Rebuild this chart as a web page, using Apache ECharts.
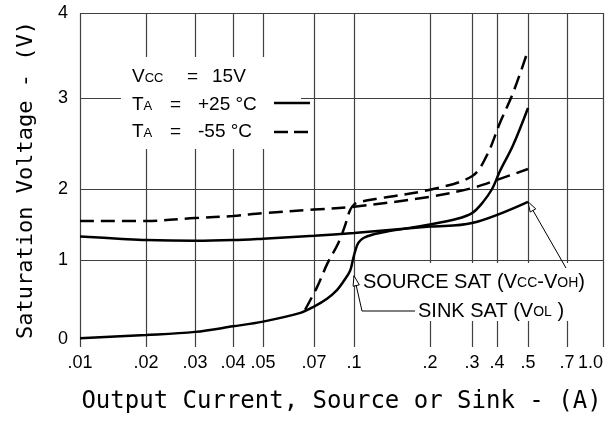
<!DOCTYPE html>
<html><head><meta charset="utf-8">
<script src="https://cdn.jsdelivr.net/npm/echarts@6/dist/echarts.min.js"></script>
<style>html,body{margin:0;padding:0;background:#fff}#c{width:610px;height:425px}</style>
</head><body><div id="c"></div>
<script>
// ---- tick values / labels (printed graph paper) ----
const xTickValues = [0.01,0.02,0.03,0.04,0.05,0.07,0.1,0.2,0.3,0.4,0.5,0.7,1.0];
const xTickLabels = ['.01','.02','.03','.04','.05','.07','.1','.2','.3','.4','.5','.7','1.0'];
const yTickValues = [0,1,2,3,4];
const yTickLabels = ['0','1','2','3','4'];

// ---- series values: [output current (A), saturation voltage (V)] ----
const sourceSat25 = [[0.01,1.33],[0.015,1.30],[0.02,1.28],[0.03,1.27],[0.04,1.28],[0.05,1.30],[0.07,1.34],[0.1,1.38],[0.2,1.47],[0.3,1.52],[0.5,1.82]];
const sourceSatM55 = [[0.01,1.55],[0.02,1.55],[0.03,1.59],[0.04,1.62],[0.05,1.66],[0.07,1.71],[0.1,1.75],[0.2,1.89],[0.3,2.01],[0.4,2.10],[0.5,2.22]];
const sinkSat25 = [[0.01,0.01],[0.02,0.05],[0.03,0.09],[0.04,0.16],[0.05,0.22],[0.064,0.33],[0.07,0.41],[0.0786,0.51],[0.0859,0.62],[0.0907,0.72],[0.0965,0.86],[0.099,1.0],[0.101,1.12],[0.104,1.24],[0.109,1.31],[0.119,1.36],[0.135,1.40],[0.2,1.50],[0.26,1.58],[0.3,1.66],[0.337,1.80],[0.378,2.0],[0.409,2.2],[0.449,2.48],[0.5,2.89]];
const sinkSatM55 = [[0.066,0.37],[0.072,0.66],[0.079,0.96],[0.087,1.24],[0.092,1.47],[0.0965,1.70],[0.1,1.78],[0.106,1.82],[0.127,1.87],[0.2,1.99],[0.3,2.14],[0.356,2.37],[0.409,2.73],[0.449,3.06],[0.5,3.56]];

// ---- layout: where each printed grid line sits on the (hand-drawn) graph paper, as axis fraction ----
const xGridPos = [0,0.1262,0.2199,0.2925,0.3499,0.4474,0.5239,0.6692,0.7495,0.7973,0.8566,0.9312,1];
const yGridPos = [0.024,0.2605,0.4731,0.7455,1];

function xScale(v){
  const n = xTickValues.length;
  for (let i=0;i<n-1;i++){
    const a=xTickValues[i], b=xTickValues[i+1];
    if (v<=b || i===n-2){
      const t=Math.log(v/a)/Math.log(b/a);
      return xGridPos[i]+t*(xGridPos[i+1]-xGridPos[i]);
    }
  }
}
function yScale(v){
  const n = yTickValues.length;
  for (let i=0;i<n-1;i++){
    const a=yTickValues[i], b=yTickValues[i+1];
    if (v<=b || i===n-2){
      const t=(v-a)/(b-a);
      return yGridPos[i]+t*(yGridPos[i+1]-yGridPos[i]);
    }
  }
}
function labelFor(pos, arr, labels){
  for (let i=0;i<arr.length;i++) if (Math.abs(arr[i]-pos)<1e-6) return labels[i];
  return '';
}
const toPlot = d => d.map(p => [xScale(p[0]), yScale(p[1])]);

const chart = echarts.init(document.getElementById('c'), null, {renderer:'canvas'});
const tickFont = {fontSize:18, fontFamily:'Liberation Sans, Arial, sans-serif', color:'#000'};
const lineBase = {type:'line', showSymbol:false, smooth:0.35, z:20, silent:true};

chart.setOption({
  animation:false,
  backgroundColor:'#fff',
  grid:{left:80, right:7, top:13, bottom:78},
  xAxis:{
    type:'value', min:0, max:1,
    axisLine:{show:false}, axisTick:{show:false}, splitLine:{show:false},
    axisLabel:Object.assign({customValues:xGridPos, margin:7, alignMaxLabel:'right',
      formatter:v=>labelFor(v,xGridPos,xTickLabels)}, tickFont),
    name:'Output Current, Source or Sink - (A)', nameLocation:'middle', nameGap:43,
    nameTextStyle:{fontSize:24, fontFamily:'DejaVu Sans Mono, monospace', color:'#000'}
  },
  yAxis:{
    type:'value', min:0, max:1,
    axisLine:{show:false}, axisTick:{show:false}, splitLine:{show:false},
    axisLabel:Object.assign({customValues:yGridPos, margin:12,
      formatter:v=>labelFor(v,yGridPos,yTickLabels)}, tickFont),
    name:'Saturation Voltage - (V)', nameLocation:'middle', nameGap:43,
    nameTextStyle:{fontSize:22, fontFamily:'DejaVu Sans Mono, monospace', color:'#000'}
  },
  series:[
    Object.assign({name:'Source sat +25', data:toPlot(sourceSat25), lineStyle:{color:'#000', width:2.5, type:'solid'}}, lineBase),
    Object.assign({name:'Source sat -55', data:toPlot(sourceSatM55), lineStyle:{color:'#000', width:2.5, type:[14,7]}}, lineBase),
    Object.assign({name:'Sink sat +25', data:toPlot(sinkSat25), lineStyle:{color:'#000', width:2.5, type:'solid'}}, lineBase),
    Object.assign({name:'Sink sat -55', data:toPlot(sinkSatM55), lineStyle:{color:'#000', width:2.5, type:[14,7]}}, lineBase)
  ]
});

const toPx = (a,b) => chart.convertToPixel({gridIndex:0}, [a,b]);

// ---- graph-paper grid lines, placed through the axes, broken where the text blocks sit ----
const boxes = [{x0:121,x1:301,y0:57,y1:149},{x0:362,x1:602,y0:263,y1:321}];
function cut(a0, a1, fixed, vertical){
  let parts = [[a0,a1]];
  boxes.forEach(b => {
    const inside = vertical ? (fixed>=b.x0 && fixed<=b.x1) : (fixed>=b.y0 && fixed<=b.y1);
    if (!inside) return;
    const lo = vertical ? b.y0 : b.x0, hi = vertical ? b.y1 : b.x1;
    const next = [];
    parts.forEach(([s,e]) => {
      if (hi<=s || lo>=e) { next.push([s,e]); return; }
      if (lo>s) next.push([s,lo]);
      if (hi<e) next.push([hi,e]);
    });
    parts = next;
  });
  return parts;
}
const pTop = toPx(0, 1), pBot = toPx(1, 0);
const gridEls = [];
const gStyle = {stroke:'#404040', lineWidth:1.2};
xGridPos.forEach(p => {
  const x = Math.round(toPx(p, 0)[0]) + 0.5;
  cut(pTop[1], pBot[1], x, true).forEach(([s,e]) =>
    gridEls.push({type:'polyline', z:5, silent:true, shape:{points:[[x,s],[x,(s+e)/2],[x,e]]}, style:Object.assign({fill:null}, gStyle)}));
});
yGridPos.slice(1).forEach(p => {
  const y = Math.round(toPx(0, p)[1]) + 0.5;
  cut(pTop[0], pBot[0]+1, y, false).forEach(([s,e]) =>
    gridEls.push({type:'polyline', z:5, silent:true, shape:{points:[[s,y],[(s+e)/2,y],[e,y]]}, style:Object.assign({fill:null}, gStyle)}));
});

// ---- annotations ----
const ff = 'Liberation Sans, Arial, sans-serif';
function mkRich(big, small){
  return {
    n:{fontSize:big, fontFamily:ff, fill:'#000', verticalAlign:'bottom'},
    s:{fontSize:small, fontFamily:ff, fill:'#000', verticalAlign:'bottom', padding:[0,0,2,0]}
  };
}
function txt(x,y,text,big,small){
  big = big || 19; small = small || 13;
  return {type:'text', x:x, y:y, z:50, silent:true,
    style:{text:text, rich:mkRich(big,small), fontSize:big, fontFamily:ff, fill:'#000', verticalAlign:'middle', align:'left'}};
}
function arrowHead(tip, from){
  let dx=tip[0]-from[0], dy=tip[1]-from[1];
  const L=Math.hypot(dx,dy); dx/=L; dy/=L;
  const len=10, w=3.2;
  const bx=tip[0]-dx*len, by=tip[1]-dy*len;
  return {type:'polygon', z:51, silent:true,
    shape:{points:[tip,[bx-dy*w, by+dx*w],[bx+dy*w, by-dx*w]]},
    style:{fill:'#fff', stroke:'#000', lineWidth:1}};
}
const last = sourceSat25[sourceSat25.length-1];
const tip1 = toPx(xScale(last[0]), yScale(last[1]));
const tip2 = toPx(xScale(0.1), yScale(0.80));
const from1 = [566,268];
const knee2 = [362,311];

chart.setOption({
  graphic:gridEls.concat([
    txt(132,77,'{n|V}{s|CC}'), txt(187,77,'{n|=}'), txt(212,77,'{n|15V}'),
    txt(132,105,'{n|T}{s|A}'), txt(170,105,'{n|=}'), txt(198,105,'{n|+25 °C}'),
    txt(132,132,'{n|T}{s|A}'), txt(170,132,'{n|=}'), txt(198,132,'{n|-55 °C}'),
    {type:'line', z:50, silent:true, shape:{x1:274,y1:103,x2:310,y2:103}, style:{stroke:'#000', lineWidth:2.5}},
    {type:'line', z:50, silent:true, shape:{x1:274,y1:132,x2:310,y2:132}, style:{stroke:'#000', lineWidth:2.5, lineDash:[14,6]}},
    txt(363,282,'{n|SOURCE SAT (V}{s|CC}{n|-V}{s|OH}{n|)}',20,14),
    txt(418,311,'{n|SINK SAT (V}{s|OL}{n| )}',20,14),
    {type:'line', z:50, silent:true, shape:{x1:tip1[0],y1:tip1[1],x2:from1[0],y2:from1[1]}, style:{stroke:'#000', lineWidth:1}},
    arrowHead(tip1, from1),
    {type:'polyline', z:50, silent:true, shape:{points:[tip2, knee2, [415,311]]}, style:{stroke:'#000', lineWidth:1, fill:null}},
    arrowHead(tip2, knee2)
  ])
});
</script>
</body></html>
